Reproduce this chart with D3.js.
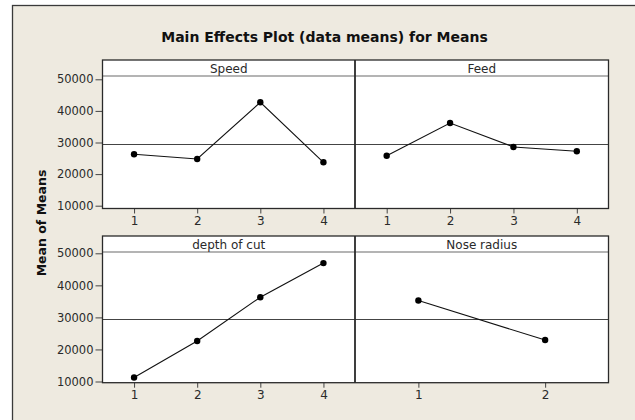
<!DOCTYPE html>
<html>
<head>
<meta charset="utf-8">
<script src="https://cdn.jsdelivr.net/npm/d3@7"></script>
<style>
  body { margin: 0; background: #fff; overflow: hidden; }
  svg { display: block; }
</style>
</head>
<body>
<div id="chart"></div>
<script>
// data
const factors = ["Speed", "Feed", "depth of cut", "Nose radius"];
const levels4 = [1, 2, 3, 4];
const levels2 = [1, 2];
const speedMeans = [26270, 24780, 42720, 23730];
const feedMeans = [25820, 36170, 28580, 27220];
const depthMeans = [11260, 22620, 36300, 46940];
const noseMeans = [35250, 22940];
const grandMean = 29350;
const yTicks = [10000, 20000, 30000, 40000, 50000];

const width = 635, height = 420;

const svg = d3.select("#chart").append("svg")
  .attr("width", width)
  .attr("height", height);

// beige frame, right and bottom edges run off the picture
svg.append("rect")
  .attr("x", 12.5).attr("y", 5.5)
  .attr("width", width + 50).attr("height", height + 50)
  .attr("fill", "#eeeae0")
  .attr("stroke", "#3a3a3a")
  .attr("stroke-width", 1.3);

svg.append("text")
  .attr("x", 324.5).attr("y", 41.5)
  .attr("text-anchor", "middle")
  .attr("font-family", "DejaVu Sans")
  .attr("font-weight", "bold")
  .attr("font-size", "14px")
  .attr("fill", "#111")
  .text("Main Effects Plot (data means) for Means");

svg.append("text")
  .attr("transform", "translate(46,223) rotate(-90)")
  .attr("text-anchor", "middle")
  .attr("font-family", "DejaVu Sans")
  .attr("font-weight", "bold")
  .attr("font-size", "12.5px")
  .attr("fill", "#111")
  .text("Mean of Means");

const cols = [[102.5, 355], [355, 608.5]];
const rows = [
  { top: 60, strip: 76, bottom: 208.5, y10: 205.7, y50: 79.3 },
  { top: 236, strip: 252, bottom: 382.7, y10: 381.5, y50: 253.3 }
];

const panels = [
  { name: factors[0], levels: levels4, means: speedMeans, r: 0, c: 0 },
  { name: factors[1], levels: levels4, means: feedMeans, r: 0, c: 1 },
  { name: factors[2], levels: levels4, means: depthMeans, r: 1, c: 0 },
  { name: factors[3], levels: levels2, means: noseMeans, r: 1, c: 1 }
];

rows.forEach(row => {
  svg.append("rect")
    .attr("x", cols[0][0]).attr("y", row.top)
    .attr("width", cols[1][1] - cols[0][0])
    .attr("height", row.bottom - row.top)
    .attr("fill", "#fff");
});

panels.forEach(p => {
  const row = rows[p.r], col = cols[p.c];
  const x = d3.scaleLinear()
    .domain([0.5, p.levels.length + 0.5])
    .range(col);
  const y = d3.scaleLinear()
    .domain([10000, 50000])
    .range([row.y10, row.y50]);

  const g = svg.append("g");

  // strip
  g.append("line")
    .attr("x1", col[0]).attr("x2", col[1])
    .attr("y1", row.strip).attr("y2", row.strip)
    .attr("stroke", "#6a6a6a").attr("stroke-width", 1.2);
  g.append("text")
    .attr("x", (col[0] + col[1]) / 2)
    .attr("y", row.strip - 3.5)
    .attr("text-anchor", "middle")
    .attr("font-family", "DejaVu Sans")
    .attr("font-size", "12px")
    .attr("fill", "#2a2a2a")
    .text(p.name);

  // grand mean reference line
  g.append("line")
    .attr("x1", col[0]).attr("x2", col[1])
    .attr("y1", y(grandMean)).attr("y2", y(grandMean))
    .attr("stroke", "#444").attr("stroke-width", 1.1);

  const line = d3.line()
    .x((d, i) => x(p.levels[i]))
    .y(d => y(d));

  g.append("path")
    .datum(p.means)
    .attr("d", line)
    .attr("fill", "none")
    .attr("stroke", "#111")
    .attr("stroke-width", 1.1);

  g.selectAll("circle")
    .data(p.means)
    .enter()
    .append("circle")
    .attr("cx", (d, i) => x(p.levels[i]))
    .attr("cy", d => y(d))
    .attr("r", 3.2)
    .attr("fill", "#000");

  // x axis
  const xAxis = g.append("g")
    .attr("transform", "translate(0," + row.bottom + ")")
    .call(d3.axisBottom(x).tickValues(p.levels).tickFormat(d3.format("d")).tickSize(5).tickSizeOuter(0).tickPadding(3));
  xAxis.select(".domain").remove();
  xAxis.selectAll("line").attr("stroke", "#444");
  xAxis.selectAll("text")
    .attr("font-family", "DejaVu Sans")
    .attr("font-size", "12px")
    .attr("fill", "#2a2a2a");

  // y axis on first column
  if (p.c === 0) {
    const yAxis = g.append("g")
      .attr("transform", "translate(" + col[0] + ",0)")
      .call(d3.axisLeft(y).tickValues(yTicks).tickFormat(d3.format("d")).tickSize(7).tickSizeOuter(0).tickPadding(2));
    yAxis.select(".domain").remove();
    yAxis.selectAll("line").attr("stroke", "#444");
    yAxis.selectAll("text")
      .attr("font-family", "DejaVu Sans")
      .attr("font-size", "11.5px")
      .attr("fill", "#2a2a2a");
  }
});

// panel borders drawn on top
rows.forEach(row => {
  svg.append("rect")
    .attr("x", cols[0][0]).attr("y", row.top)
    .attr("width", cols[1][1] - cols[0][0])
    .attr("height", row.bottom - row.top)
    .attr("fill", "none")
    .attr("stroke", "#2a2a2a")
    .attr("stroke-width", 1.3);
  svg.append("line")
    .attr("x1", cols[1][0]).attr("x2", cols[1][0])
    .attr("y1", row.top).attr("y2", row.bottom)
    .attr("stroke", "#2a2a2a")
    .attr("stroke-width", 1.8);
});
</script>
</body>
</html>
